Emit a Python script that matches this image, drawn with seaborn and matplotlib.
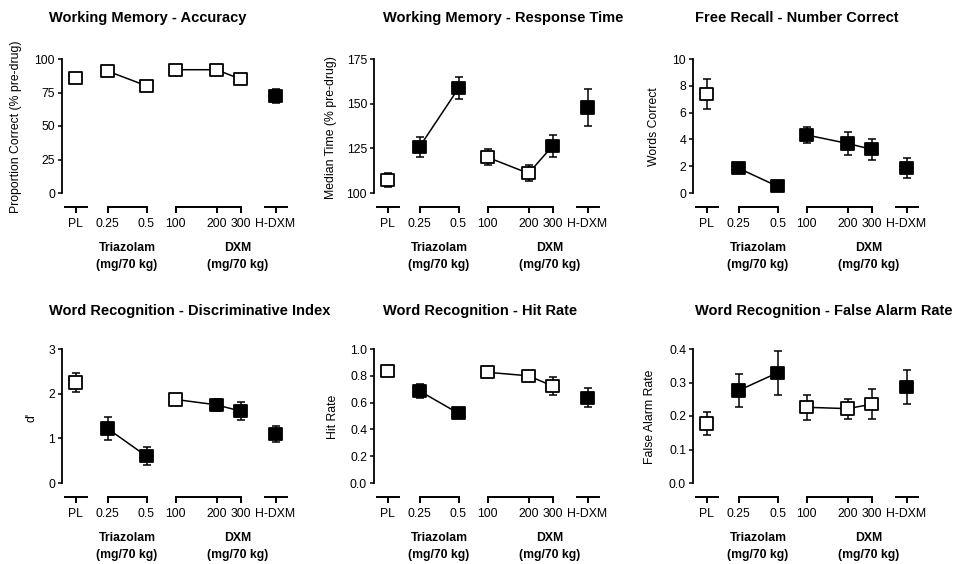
import numpy as np
import pandas as pd
import matplotlib
matplotlib.use('Agg')
import matplotlib.pyplot as plt
import seaborn as sns

# doses (x categories) and which group each belongs to
dose_labels = ['PL', '0.25', '0.5', '100', '200', '300', 'H-DXM']
dose_group = ['PL', 'TRZ', 'TRZ', 'DXM', 'DXM', 'DXM', 'HDXM']

# Working Memory - Accuracy
acc_mean = [86, 91, 80, 92, 92, 85, 72.5]
acc_sem = [2, 3, 3.8, 1.5, 1.5, 2, 5.2]
acc_sig = [0, 0, 0, 0, 0, 0, 1]

# Working Memory - Response Time
rt_mean = [107.3, 125.8, 158.6, 120, 111, 126.3, 147.8]
rt_sem = [4, 5.5, 6.2, 4.6, 4.5, 6, 10.5]
rt_sig = [0, 1, 1, 0, 0, 1, 1]

# Free Recall - Number Correct
fr_mean = [7.4, 1.85, 0.5, 4.33, 3.7, 3.26, 1.84]
fr_sem = [1.1, 0.3, 0.2, 0.6, 0.85, 0.8, 0.75]
fr_sig = [0, 1, 1, 1, 1, 1, 1]

# Word Recognition - d'
dp_mean = [2.25, 1.22, 0.6, 1.87, 1.75, 1.61, 1.10]
dp_sem = [0.21, 0.26, 0.2, 0.1, 0.13, 0.21, 0.18]
dp_sig = [0, 1, 1, 0, 1, 1, 1]

# Word Recognition - Hit Rate
hit_mean = [0.836, 0.687, 0.52, 0.826, 0.80, 0.724, 0.637]
hit_sem = [0.02, 0.05, 0.03, 0.015, 0.02, 0.07, 0.07]
hit_sig = [0, 1, 1, 0, 0, 0, 1]

# Word Recognition - False Alarm Rate
fa_mean = [0.178, 0.276, 0.329, 0.226, 0.222, 0.235, 0.286]
fa_sem = [0.035, 0.05, 0.066, 0.037, 0.03, 0.045, 0.05]
fa_sig = [0, 1, 1, 0, 0, 0, 1]

# layout of the dose axis (data units)
dose_pos = [0, 3.2, 7.1, 10, 14.1, 16.5, 20]
segments = [(-1.1, 1.1), (3.2, 7.1), (10, 16.5), (18.9, 21.1)]
XLIM = (-1.35, 21.4)

panels = [
    ('Working Memory - Accuracy', 'Proportion Correct (% pre-drug)', acc_mean, acc_sem, acc_sig,
     [0, 25, 50, 75, 100], '%d', -45),
    ('Working Memory - Response Time', 'Median Time (% pre-drug)', rt_mean, rt_sem, rt_sig,
     [100, 125, 150, 175], '%d', -42),
    ('Free Recall - Number Correct', 'Words Correct', fr_mean, fr_sem, fr_sig,
     [0, 2, 4, 6, 8, 10], '%d', -38),
    ('Word Recognition - Discriminative Index', "d'", dp_mean, dp_sem, dp_sig,
     [0, 1, 2, 3], '%d', -30),
    ('Word Recognition - Hit Rate', 'Hit Rate', hit_mean, hit_sem, hit_sig,
     [0, 0.2, 0.4, 0.6, 0.8, 1.0], '%.1f', -40),
    ('Word Recognition - False Alarm Rate', 'False Alarm Rate', fa_mean, fa_sem, fa_sig,
     [0, 0.1, 0.2, 0.3, 0.4], '%.1f', -42),
]

sns.set_style('ticks')
plt.rcParams['font.family'] = ['Liberation Sans', 'DejaVu Sans']
for k in ['text.color', 'axes.labelcolor', 'xtick.color', 'ytick.color', 'axes.edgecolor']:
    plt.rcParams[k] = 'black'
FS = 8.8

W, H = 960, 564
fig = plt.figure(figsize=(W / 100, H / 100), dpi=100)

left_px = [62, 374, 693]
top_px = [59, 349]
ax_h_px = 148
ax_w_px = 227.5
gap_px = 14
title_x = [49, 383, 695]
title_y = [18, 311]

for i, (title, ylab, mean, sem, sig, yticks, fmt, ylab_off) in enumerate(panels):
    r, c = divmod(i, 3)
    l = left_px[c] / W
    b = 1 - (top_px[r] + ax_h_px) / H
    ax = fig.add_axes([l, b, ax_w_px / W, ax_h_px / H])

    df = pd.DataFrame({'x': dose_pos, 'y': mean, 'err': sem, 'sig': sig, 'group': dose_group})

    sns.lineplot(data=df, x='x', y='y', units='group', estimator=None, color='black',
                 lw=1.1, ax=ax, zorder=1, legend=False)
    ax.errorbar(df['x'], df['y'], yerr=df['err'], fmt='none', ecolor='black',
                elinewidth=1.1, capsize=3, capthick=1.1, zorder=2)
    sns.scatterplot(data=df, x='x', y='y', hue='sig', palette={0: 'white', 1: 'black'},
                    marker='s', s=78, edgecolor='black', linewidth=1.3, legend=False,
                    ax=ax, zorder=3)

    ymin, ymax = yticks[0], yticks[-1]
    pad = (ymax - ymin) * gap_px / (ax_h_px - gap_px)
    ax.set_ylim(ymin - pad, ymax)
    ax.set_xlim(*XLIM)
    ax.set_yticks(yticks)
    ax.set_yticklabels([fmt % v for v in yticks])
    ax.set_xticks(dose_pos)
    ax.set_xticklabels(dose_labels)

    for s in ['top', 'right', 'bottom']:
        ax.spines[s].set_visible(False)
    ax.spines['left'].set_bounds(ymin, ymax)
    ax.spines['left'].set_linewidth(1.3)
    ax.tick_params(axis='y', left=True, length=3, width=1.1, pad=2, labelsize=FS,
                   direction='out', color='black')
    ax.tick_params(axis='x', length=0, pad=8, labelsize=FS)

    # bracket segments under each dose group, with a short tick at every dose
    tr = ax.get_xaxis_transform()
    for x0, x1 in segments:
        ax.plot([x0, x1], [0, 0], transform=tr, color='black',
                lw=1.4, clip_on=False, solid_capstyle='projecting', zorder=5)
    for x in dose_pos:
        ax.plot([x, x], [0, -6 / ax_h_px], transform=tr, color='black',
                lw=1.4, clip_on=False, solid_capstyle='butt', zorder=5)

    ax.set_xlabel('')
    ax.set_ylabel(ylab, fontsize=FS)
    ax.yaxis.set_label_coords((ylab_off + 5) / ax_w_px, 0.54)

    for gx, gname in [(5.15, 'Triazolam'), (16.25, 'DXM')]:
        ax.text(gx, -41 / ax_h_px, gname, transform=tr, ha='center', va='center',
                fontsize=FS, fontweight='bold')
        ax.text(gx, -58 / ax_h_px, '(mg/70 kg)', transform=tr, ha='center', va='center',
                fontsize=FS, fontweight='bold')

    fig.text(title_x[c] / W, 1 - title_y[r] / H, title, ha='left', va='center',
             fontsize=10.5, fontweight='bold')

fig.savefig('out.png', dpi=100)
